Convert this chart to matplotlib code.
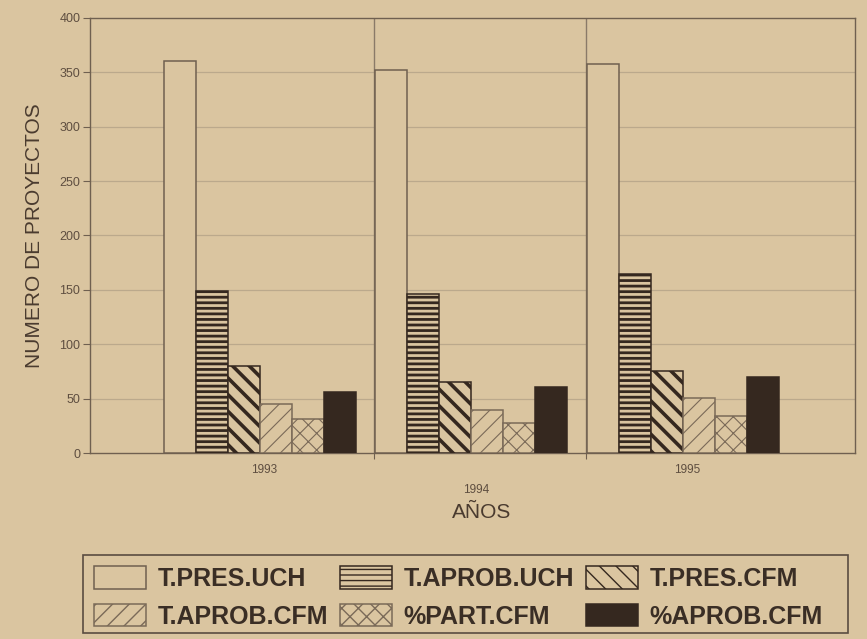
import matplotlib
matplotlib.use("Agg")
import matplotlib.pyplot as plt
from matplotlib.patches import Rectangle
import numpy as np

years = ["1993", "1994", "1995"]
series_names = ["T.PRES.UCH", "T.APROB.UCH", "T.PRES.CFM",
                "T.APROB.CFM", "%PART.CFM", "%APROB.CFM"]
t_pres_uch = [360, 352, 358]
t_aprob_uch = [149, 146, 165]
t_pres_cfm = [80, 65, 75]
t_aprob_cfm = [45, 40, 51]
part_cfm = [31, 28, 34]
aprob_cfm = [56, 61, 70]
y_ticks = [0, 50, 100, 150, 200, 250, 300, 350, 400]

values = [t_pres_uch, t_aprob_uch, t_pres_cfm, t_aprob_cfm, part_cfm, aprob_cfm]

BG = "#dac5a0"
LINE = "#6f6050"
DARK = "#35281f"
TXT = "#4a3b2f"

plt.rcParams['font.family'] = ['Liberation Sans', 'DejaVu Sans']

styles = [
    dict(face=BG, edge=LINE, hatch=None, hlw=1.0),
    dict(face=BG, edge=DARK, hatch='---', hlw=2.0),
    dict(face=BG, edge=DARK, hatch='\\\\', hlw=2.6),
    dict(face=BG, edge="#7a6a58", hatch='//', hlw=0.8),
    dict(face=BG, edge="#7a6a58", hatch='xx', hlw=0.8),
    dict(face=DARK, edge=DARK, hatch=None, hlw=1.0),
]

fig = plt.figure(figsize=(8.67, 6.39), dpi=100, facecolor=BG)
ax = fig.add_axes([90/867, 1-453/639, 765/867, 435/639])
ax.set_facecolor(BG)

x = np.arange(len(years))
w = 0.151
handles = []
for i, (vals, st, name) in enumerate(zip(values, styles, series_names)):
    with plt.rc_context({'hatch.linewidth': st['hlw'], 'hatch.color': st['edge']}):
        bars = ax.bar(x + (i - 2.5) * w, vals, width=w, color=st['face'],
                      edgecolor=st['edge'], hatch=st['hatch'], linewidth=1.1,
                      label=name, zorder=3)
        for p in bars:
            if hasattr(p, 'set_hatch_linewidth'):
                p.set_hatch_linewidth(st['hlw'])
    handles.append(bars)

ax.set_xlim(-0.80, 2.81)
ax.set_ylim(0, 400)
ax.set_yticks(y_ticks)
ax.set_yticklabels([str(v) for v in y_ticks], fontsize=9, color="#5e4e40")
ax.tick_params(axis='y', direction='out', length=5, color=LINE, pad=2)

# horizontal grid
for v in y_ticks[1:-1]:
    ax.axhline(v, color="#bba98c", lw=0.9, zorder=1)
# category separators
bounds = [0.54, 1.54]
for b in bounds:
    ax.axvline(b, color="#8a7a68", lw=1.0, zorder=1)
ax.set_xticks(bounds)
ax.set_xticklabels([])
ax.tick_params(axis='x', direction='out', length=4, color=LINE)

label_y = [-0.039, -0.085, -0.039]
for xi, yr, ly in zip(x, years, label_y):
    ax.text(xi + 0.02, ly, yr, transform=ax.get_xaxis_transform(),
            ha='center', va='center', fontsize=8.5, color="#5e4e40")

for s in ax.spines.values():
    s.set_color(LINE)
    s.set_linewidth(1.0)

ax.set_ylabel("NUMERO DE PROYECTOS", fontsize=15, color=TXT, labelpad=11)
ax.set_xlabel("AÑOS", fontsize=15, color=TXT)
ax.xaxis.set_label_coords(0.512, -0.115)
ax.xaxis.label.set_va('top')

order = [0, 3, 1, 4, 2, 5]
leg = fig.legend([handles[i] for i in order], [series_names[i] for i in order],
                 ncol=3, loc='upper left',
                 bbox_to_anchor=(83/867, 1-555/639),
                 borderaxespad=0, frameon=False,
                 prop={'size': 18, 'weight': 'bold'},
                 handlelength=2.08, handleheight=1.0, handletextpad=0.44,
                 labelspacing=0.52, borderpad=0.45, columnspacing=0.5)
for t in leg.get_texts():
    t.set_color("#3a2e25")

# legend frame
fig.add_artist(Rectangle((83/867, 1-633/639), 765/867, 78/639,
                         transform=fig.transFigure, fill=False,
                         edgecolor="#5a4c40", linewidth=1.2))

fig.savefig("out.png", dpi=100, facecolor=BG)
